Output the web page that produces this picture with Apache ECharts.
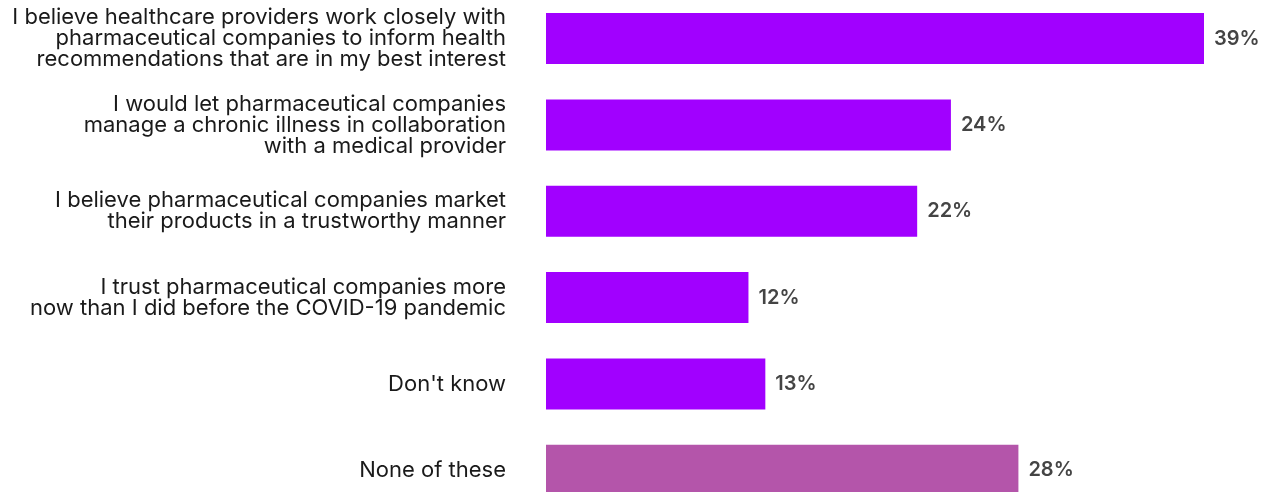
<!DOCTYPE html>
<html>
<head>
<meta charset="utf-8">
<script src="https://cdn.jsdelivr.net/npm/echarts@6/dist/echarts.min.js"></script>
<style>
  html, body { margin: 0; padding: 0; background: #fff; }
  #chart { width: 1263px; height: 492px; }
</style>
</head>
<body>
<div id="chart"></div>
<script>
// Survey statements (top to bottom) and share of respondents agreeing
const categories = [
  "I believe healthcare providers work closely with\npharmaceutical companies to inform health\nrecommendations that are in my best interest",
  "I would let pharmaceutical companies\nmanage a chronic illness in collaboration\nwith a medical provider",
  "I believe pharmaceutical companies market\ntheir products in a trustworthy manner",
  "I trust pharmaceutical companies more\nnow than I did before the COVID-19 pandemic",
  "Don't know",
  "None of these"
];
const values = [39, 24, 22, 12, 13, 28];
const barColors = ["#A100FF", "#A100FF", "#A100FF", "#A100FF", "#A100FF", "#B455AA"];

const chart = echarts.init(document.getElementById('chart'), null, { renderer: 'canvas' });
chart.setOption({
  animation: false,
  grid: { left: 546, width: 658, top: -4.6, height: 518, containLabel: false, outerBoundsMode: 'none' },
  xAxis: {
    type: 'value', min: 0, max: 39,
    show: false
  },
  yAxis: {
    type: 'category',
    inverse: true,
    data: categories,
    axisLine: { show: false },
    axisTick: { show: false },
    axisLabel: {
      margin: 40,
      align: 'right',
      color: '#1a1a1a',
      fontFamily: 'Inter',
      fontSize: 22,
      lineHeight: 21
    }
  },
  series: [{
    type: 'bar',
    barWidth: 51,
    data: values.map((v, i) => ({ value: v, itemStyle: { color: barColors[i] } })),
    label: {
      show: true,
      position: 'right',
      distance: 10,
      formatter: '{c}%',
      color: '#444444',
      fontFamily: 'Inter',
      fontWeight: 600,
      fontSize: 20
    }
  }]
});
</script>
</body>
</html>
